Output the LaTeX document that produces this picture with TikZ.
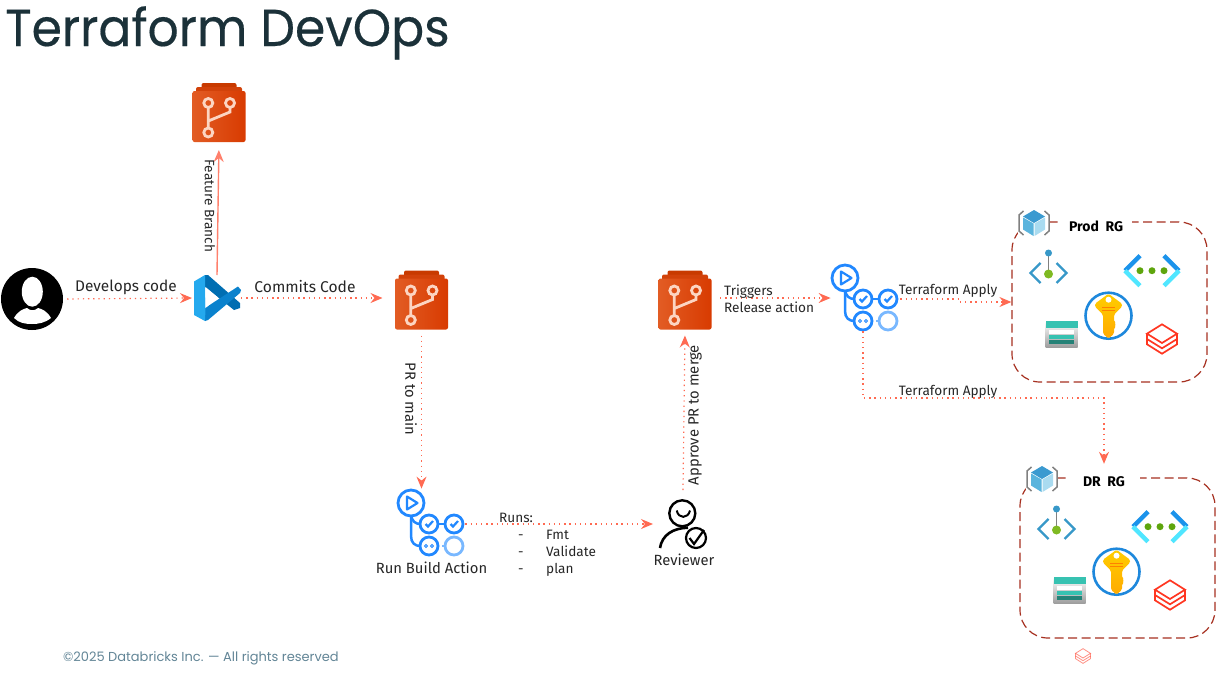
\documentclass[tikz,border=0pt]{standalone}
\usepackage{fontspec}
\setmainfont{Fira Sans}
\newfontfamily\headfont{Poppins}
\newfontfamily\titlefont[FakeBold=0.35]{Poppins}
\usetikzlibrary{arrows.meta}

\definecolor{flowred}{HTML}{FF6A52}
\definecolor{boxred}{HTML}{A63020}
\definecolor{navy}{HTML}{1B3139}
\definecolor{actionblue}{HTML}{2188FF}
\definecolor{lightblue}{HTML}{79B8FF}
\definecolor{glyph}{HTML}{FCD5C2}
\definecolor{azure}{HTML}{3798C8}
\definecolor{bricks}{HTML}{FF3621}

\tikzset{
    flow/.style={draw=flowred,line width=1.2pt,dash pattern=on 1.3pt off 3.9pt,-{Stealth[length=12pt,width=10pt,inset=4pt,sep=0pt]}},
    solidflow/.style={draw=flowred!85,line width=1.4pt,-{Stealth[length=12pt,width=10pt,inset=4pt]}},
    iconbox/.style={inner sep=0pt,outer sep=0pt},
    lbl/.style={inner sep=0pt,font=\fontsize{14.8}{16}\selectfont,text=black!85},
    smalllbl/.style={lbl,font=\fontsize{13.6}{16}\selectfont},
    repoicon/.pic={
        \fill[rounded corners=2pt,fill={rgb,255:red,200;green,58;blue,0}] (-17.5,-30) rectangle (17.5,-15);
        \fill[rounded corners=2pt,fill={rgb,255:red,210;green,66;blue,10}] (-23,-26) rectangle (23,-15);
        \shade[rounded corners=2pt,left color={rgb,255:red,226;green,92;blue,36},right color={rgb,255:red,216;green,59;blue,1}] (-26.5,-22) rectangle (26.5,29);
        \draw[glyph,line width=2.8pt] (-10.7,-10) circle[radius=4.5pt] (11,-10) circle[radius=4.5pt] (-10.7,19.5) circle[radius=4.5pt];
        \draw[glyph,line width=2.8pt] (-10.7,-5.5) -- (-10.7,15) (11,-5.5) -- (11,-1) -- (-10.7,8);
    },
    actionicon/.pic={
        \draw[actionblue,line width=2.5pt] (0,12) -- (0,33) .. controls (0,40) and (4,43) .. (9.5,43);
        \draw[actionblue,line width=2.5pt] (0,12) .. controls (1,18) and (4,21) .. (9.5,21);
        \draw[actionblue,line width=2.5pt] (27,21) -- (34.5,21);
        \draw[lightblue,line width=2.5pt] (31,43) -- (34.5,43);
        \node[circle,draw=actionblue,line width=2.8pt,fill=white,minimum size=26pt,inner sep=0pt] (-play) at (0,0) {};
        \node[circle,draw=actionblue,line width=2.8pt,fill=white,minimum size=18pt,inner sep=0pt] (-check) at (18,21) {};
        \node[circle,draw=actionblue,line width=2.8pt,fill=white,minimum size=18pt,inner sep=0pt] (-done) at (43,21) {};
        \node[circle,draw=actionblue,line width=2.8pt,fill=white,minimum size=18pt,inner sep=0pt] (-wait) at (18,43) {};
        \node[circle,draw=lightblue,line width=2.8pt,fill=white,minimum size=18pt,inner sep=0pt] (-idle) at (43,43) {};
        \draw[actionblue,line width=2.2pt,line join=round] (-4,-6.5) -- (6.5,0) -- (-4,6.5) -- cycle;
        \draw[actionblue,line width=2.2pt] (14.5,21) -- (17,23.5) -- (22,18);
        \draw[actionblue,line width=2.2pt] (39.5,21) -- (42,23.5) -- (47,18);
        \draw[actionblue,line width=1pt] (15,43) circle[radius=1.5pt] (21,43) circle[radius=1.5pt];
    },
    vscodeicon/.pic={
        \fill[fill={rgb,255:red,0;green,110;blue,178}] (-12,-23) -- (-9,-23) -- (23,5) -- (23,10) -- (17,12) -- (-12,-11) -- cycle;
        \fill[fill={rgb,255:red,10;green,130;blue,205}] (-12,23) -- (-9,22) -- (23,-5) -- (24,-8) -- (21,-11.5) -- (-12,10) -- cycle;
        \fill[fill={rgb,255:red,36;green,169;blue,238}] (-23,-16.5) -- (-12,-23) -- (-12,-11) -- (-11.5,10.5) -- (-12,23) -- (-23,17) -- cycle;
        \fill[white] (-11.5,-11) -- (1,-0.5) -- (-11.5,10) -- cycle;
    },
    reviewericon/.pic={
        \draw[black,line width=2.4pt] (-0.7,-6.7) circle[radius=13pt];
        \draw[black,line width=2pt] (-6.3,-9.5) .. controls (-4.5,-1) and (5,-1) .. (7,-9.5);
        \draw[black,line width=2.6pt] (-23,28) .. controls (-21,15) and (-10,8) .. (5,7.7);
        \draw[black,fill=white,line width=2.2pt] (13,18) circle[radius=10pt];
        \draw[black,line width=2.2pt] (6.5,18) -- (11,24) -- (21,10);
    },
    gatewayicon/.pic={
        \draw[azure,line width=2.4pt] (-8,-10) -- (-18,0) -- (-8,10) (8,-10) -- (18,0) -- (8,10);
        \draw[black!50,line width=1.8pt] (0,-18) -- (0,1);
        \fill[azure] (0,-20) circle[radius=3.5pt];
        \fill[fill={rgb,255:red,127;green,186;blue,34}] (0,1) circle[radius=4.5pt];
    },
    vneticon/.pic={
        \draw[fill=none,draw={rgb,255:red,27;green,147;blue,235},line width=4.5pt] (-12,-15) -- (-27,0) (12,-15) -- (27,0);
        \draw[fill=none,draw={rgb,255:red,80;green,230;blue,255},line width=4.5pt] (-27,0) -- (-12,15) (27,0) -- (12,15);
        \fill[fill={rgb,255:red,94;green,165;blue,13}] (-12,0) circle[radius=3.5pt] (0,0) circle[radius=3.5pt] (12,0) circle[radius=3.5pt];
    },
    keyicon/.pic={
        \draw[draw={rgb,255:red,30;green,136;blue,220},fill=white,line width=2.6pt] (0,0) circle[radius=23pt];
        \shade[top color={rgb,255:red,255;green,205;blue,0},bottom color={rgb,255:red,255;green,170;blue,0},rounded corners=1.5pt]
            (0,-22) -- (13.5,-12) -- (13.5,-9) -- (5.5,-1) -- (5.5,6) -- (8,7.5) -- (5.5,9) -- (8,10.5) -- (5.5,12) -- (5.5,18) -- (0,23) -- (-5.5,18) -- (-5.5,-1) -- (-13.5,-9) -- (-13.5,-12) -- cycle;
        \fill[white] (0,-16) circle[radius=3pt];
        \draw[orange,line width=.7pt] (-6.5,-8.5) -- (6.5,-8.5) (-6.5,-5) -- (6.5,-5);
    },
    storageicon/.pic={
        \shade[top color=white,bottom color=black!38] (-16,-13) rectangle (16,13);
        \fill[fill={rgb,255:red,55;green,194;blue,177}] (-16,-13) rectangle (16,-6);
        \fill[white] (-12.5,-4) rectangle (12.5,0);
        \fill[fill={rgb,255:red,55;green,194;blue,177}] (-12.5,1) rectangle (12.5,5);
        \fill[fill={rgb,255:red,37;green,130;blue,119}] (-12.5,6) rectangle (12.5,10);
    },
    layersicon/.pic={
        \draw[bricks] (-15,-5.3) -- (0,-14.7) -- (15,-5.3) -- (0,4) -- cycle;
        \draw[bricks] (-15,0) -- (0,9.3) -- (15,0) -- (15,-5.3);
        \draw[bricks] (-15,-5.3) -- (-15,5.3) -- (0,14.7) -- (15,5.3) -- (15,0);
    },
    rgicon/.pic={
        \fill[white] (-16,-14) rectangle (16,14);
        \fill[fill={rgb,255:red,59;green,154;blue,208}] (0,-13) -- (11,-6.5) -- (0,0) -- (-11,-6.5) -- cycle;
        \fill[fill={rgb,255:red,90;green,180;blue,221}] (-11,-5.5) -- (-0.5,0.5) -- (-0.5,13) -- (-11,6.5) -- cycle;
        \fill[fill={rgb,255:red,169;green,219;blue,240}] (11,-5.5) -- (0.5,0.5) -- (0.5,13) -- (11,6.5) -- cycle;
        \draw[black!50,line width=1.5pt] (-10.5,-12) -- (-15,-8) -- (-15,8) -- (-10.5,12) (10.5,-12) -- (15,-8) -- (15,8) -- (10.5,12);
    },
    rggroup/.pic={
        \node[draw=boxred,line width=1.2pt,dash pattern=on 9pt off 4.5pt,rounded corners=28pt,minimum width=195pt,minimum height=160pt,inner sep=0pt] (-box) at (0,0) {};
        \pic at (-75.5,-79) {rgicon};
        \node[fill=white,inner sep=0pt,minimum width=72pt,minimum height=16pt,font=\fontsize{14}{15}\selectfont\bfseries] (-label) at (-13.5,-76) {#1};
        \pic at (-61,-29) {gatewayicon};
        \pic at (42.5,-31.3) {vneticon};
        \pic at (-1,13.7) {keyicon};
        \pic at (-48,32) {storageicon};
        \pic[line width=1.7pt] at (52.5,37) {layersicon};
    },
}

\begin{document}
\begin{tikzpicture}[x=1pt,y=-1pt]
    \useasboundingbox (0,0) rectangle (1225,672);

    \node[anchor=base west,inner sep=0pt,text=navy,xscale=.94,font=\titlefont\fontsize{52}{60}\selectfont] (title) at (5,46) {Terraform DevOps};

    % person on the left
    \node[circle,fill=black,minimum size=62pt,inner sep=0pt] (user) at (32,299) {};
    \fill[white] (32.3,291.7) ellipse[x radius=10.5pt,y radius=15pt];
    \fill[white] (14,318) .. controls (18,311) and (23,309) .. (27,308) .. controls (30,311) and (35,311) .. (38,308) .. controls (42,309) and (47,311) .. (51,318) .. controls (45,323) and (38,324) .. (32,324) .. controls (25,324) and (19,323) .. (14,318) -- cycle;

    \node[iconbox,minimum width=48pt,minimum height=46pt] (vscode) at (217,298) {};
    \pic at (vscode) {vscodeicon};

    \node[iconbox,minimum width=54pt,minimum height=60pt] (repoFeature) at (219,113) {};
    \node[iconbox,minimum width=54pt,minimum height=60pt] (repoPR) at (421.5,300.5) {};
    \node[iconbox,minimum width=54pt,minimum height=60pt] (repoMain) at (685,300.5) {};
    \pic at (repoFeature) {repoicon};
    \pic at (repoPR) {repoicon};
    \pic at (repoMain) {repoicon};

    \pic (build) at (411,503) {actionicon};
    \pic (release) at (845,278) {actionicon};

    \node[iconbox,minimum width=50pt,minimum height=60pt] (reviewer) at (683,520) {};
    \pic at (reviewer) {reviewericon};

    \pic (prod) at (1109.5,302) {rggroup=Prod\ \ RG};
    \pic (dr) at (1117.5,558) {rggroup=DR\ \ RG};
    \pic[line width=.8pt,opacity=.55,scale=.5] at (1083,656) {layersicon};

    % connectors
    \draw[flow,shorten <=4pt,shorten >=1pt] (user.east) -- (vscode.west);
    \draw[flow,shorten >=12pt] (vscode.east) -- (vscode.east -| repoPR.west);
    \draw[solidflow,shorten >=7pt] (vscode.north) -- (repoFeature.south);
    \draw[flow,shorten <=5pt] (repoPR.south) -- (repoPR.south |- build-play.north);
    \draw[flow,shorten <=1pt,shorten >=5pt] (build-done.east) -- (build-done.east -| reviewer.west);
    \draw[flow,shorten >=5pt] (reviewer.north) -- (repoMain.south);
    \draw[flow,shorten <=8pt] (repoMain.east |- vscode.east) -- (release-play.west |- vscode.east);
    \draw[flow,shorten <=2pt] (release-done.east) -- ++(60,0) |- (prod-box.west);
    \coordinate (drTurn) at (dr-label.north |- 0,398);
    \draw[flow,shorten >=10pt] (release-wait.south) |- (drTurn) -- (dr-label.north);

    % labels
    \node[lbl,font=\fontsize{15.4}{16}\selectfont] (lblDevelops) at (126,287) {Develops code};
    \node[lbl,font=\fontsize{15.6}{16}\selectfont] (lblCommits) at (305,287) {Commits Code};
    \node[smalllbl,rotate=-90] (lblFeature) at (210,206) {Feature Branch};
    \node[lbl,rotate=-90] (lblPR) at (411,399) {PR to main};
    \node[lbl,rotate=90] (lblApprove) at (695,415) {Approve PR to merge};
    \node[smalllbl,anchor=base west] (lblTriggers) at (724,295) {Triggers};
    \node[smalllbl,anchor=base west] (lblRelease) at (724,312) {Release action};
    \node[smalllbl] (lblApplyProd) at (948,291) {Terraform Apply};
    \node[smalllbl] (lblApplyDr) at (948,392) {Terraform Apply};
    \node[lbl] (lblBuild) at (431.5,568) {Run Build Action};
    \node[lbl] (lblReviewer) at (684,560) {Reviewer};
    \node[smalllbl,anchor=base west] (lblRuns) at (499,522) {Runs:};
    \node[smalllbl,anchor=base west] (dashFmt) at (518,539) {-};
    \node[smalllbl,anchor=base west] (dashValidate) at (518,556) {-};
    \node[smalllbl,anchor=base west] (dashPlan) at (518,573) {-};
    \node[smalllbl,anchor=base west] (lblFmt) at (546,539) {Fmt};
    \node[smalllbl,anchor=base west] (lblValidate) at (546,556) {Validate};
    \node[smalllbl,anchor=base west] (lblPlan) at (546,573) {plan};

    \node[anchor=base west,inner sep=0pt,text={rgb,255:red,98;green,133;blue,150},font=\headfont\fontsize{13}{15}\selectfont] (footer) at (63,661) {©2025 Databricks Inc. — All rights reserved};
\end{tikzpicture}
\end{document}
